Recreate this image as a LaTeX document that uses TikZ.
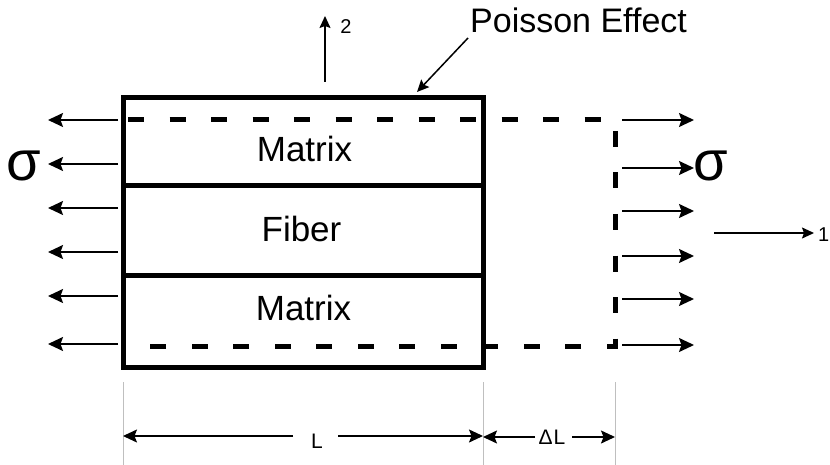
\documentclass[tikz,border=0pt]{standalone}
\usepackage{fontspec}
\setmainfont{Liberation Sans}
\usetikzlibrary{arrows.meta}
\begin{document}
\begin{tikzpicture}[x=1pt,y=-1pt,
  arr/.style={line width=1.7pt,-{Stealth[length=15pt,width=14pt,inset=2.5pt]}},
  thinarr/.style={line width=1.5pt,-{Stealth[length=12pt,width=11pt,inset=2pt]}},
  dimarr/.style={line width=1.5pt,-{Stealth[length=14pt,width=13pt,inset=2.5pt]}},
  guide/.style={line width=0.7pt,draw=black!25},
  lbl/.style={inner sep=0pt,anchor=base},
  boxline/.style={line width=5pt}]
\useasboundingbox (0,0) rectangle (830,465);

% deformed outline (dashed)
\coordinate (d1) at (128,120);
\coordinate (d2) at (615,120);
\coordinate (d3) at (615,346);
\coordinate (d4) at (150,346);
\draw[line width=5pt,dash pattern=on 16pt off 25.5pt] (d1) -- (d2) -- (d3) -- (d4);

% laminate box
\node[draw,boxline,minimum width=360pt,minimum height=269pt,inner sep=0pt] (box) at (303,232.5) {};
\coordinate (i1l) at (123,186); \coordinate (i1r) at (483,186);
\coordinate (i2l) at (123,275.5); \coordinate (i2r) at (483,275.5);
\draw[boxline] (i1l) -- (i1r);
\draw[boxline] (i2l) -- (i2r);

\node[lbl,font=\fontsize{35}{40}\selectfont] (m1) at (304.5,162) {Matrix};
\node[lbl,font=\fontsize{35}{40}\selectfont] (fb) at (301.5,242) {Fiber};
\node[lbl,font=\fontsize{35}{40}\selectfont] (m2) at (303.5,320) {Matrix};

% left arrows
\foreach \i/\yy in {1/120,2/164,3/208,4/252,5/296,6/344}{
  \coordinate (ls\i) at (118,\yy);
  \coordinate (le\i) at (48,\yy);
  \draw[arr] (ls\i) -- (le\i);
}
% right arrows
\foreach \i/\yy in {1/120,2/168,3/211,4/256,5/299,6/345}{
  \coordinate (rs\i) at (622,\yy);
  \coordinate (re\i) at (694,\yy);
  \draw[arr] (rs\i) -- (re\i);
}

\node[lbl,font=\fontsize{56}{60}\selectfont] (sl) at (24,181) {σ};
\node[lbl,font=\fontsize{56}{60}\selectfont] (sr) at (711,181) {σ};

% axis 2
\coordinate (a2s) at (325,82);
\coordinate (a2e) at (325,16);
\draw[thinarr] (a2s) -- (a2e);
\node[lbl,font=\fontsize{20}{22}\selectfont] (t2) at (346,34) {2};

% axis 1
\coordinate (a1s) at (714,233);
\coordinate (a1e) at (814,233);
\draw[thinarr] (a1s) -- (a1e);
\node[lbl,font=\fontsize{20}{22}\selectfont,anchor=base west] (t1) at (818,241) {1};

% Poisson effect
\node[lbl,anchor=base west,font=\fontsize{34}{38}\selectfont] (pe) at (470,33) {Poisson Effect};
\coordinate (ps) at (468,38);
\coordinate (pt) at (417,92);
\draw[thinarr] (ps) -- (pt);

% dimension guides
\foreach \n/\xx in {g1/123,g2/483,g3/615}{
  \coordinate (\n t) at (\xx,382);
  \coordinate (\n b) at (\xx,465);
  \draw[guide] (\n t) -- (\n b);
}
\node[lbl,font=\fontsize{21}{24}\selectfont] (L) at (317,448) {L};
\node[lbl,font=\fontsize{21}{24}\selectfont] (dL) at (552,444) {Δ\kern1ptL};
\coordinate (L1) at (293,436); \coordinate (L1e) at (123,436);
\coordinate (L2) at (338,436); \coordinate (L2e) at (483,436);
\coordinate (D1) at (535,437); \coordinate (D1e) at (483,437);
\coordinate (D2) at (572,437); \coordinate (D2e) at (615,437);
\draw[dimarr] (L1) -- (L1e);
\draw[dimarr] (L2) -- (L2e);
\draw[dimarr] (D1) -- (D1e);
\draw[dimarr] (D2) -- (D2e);
\end{tikzpicture}
\end{document}
